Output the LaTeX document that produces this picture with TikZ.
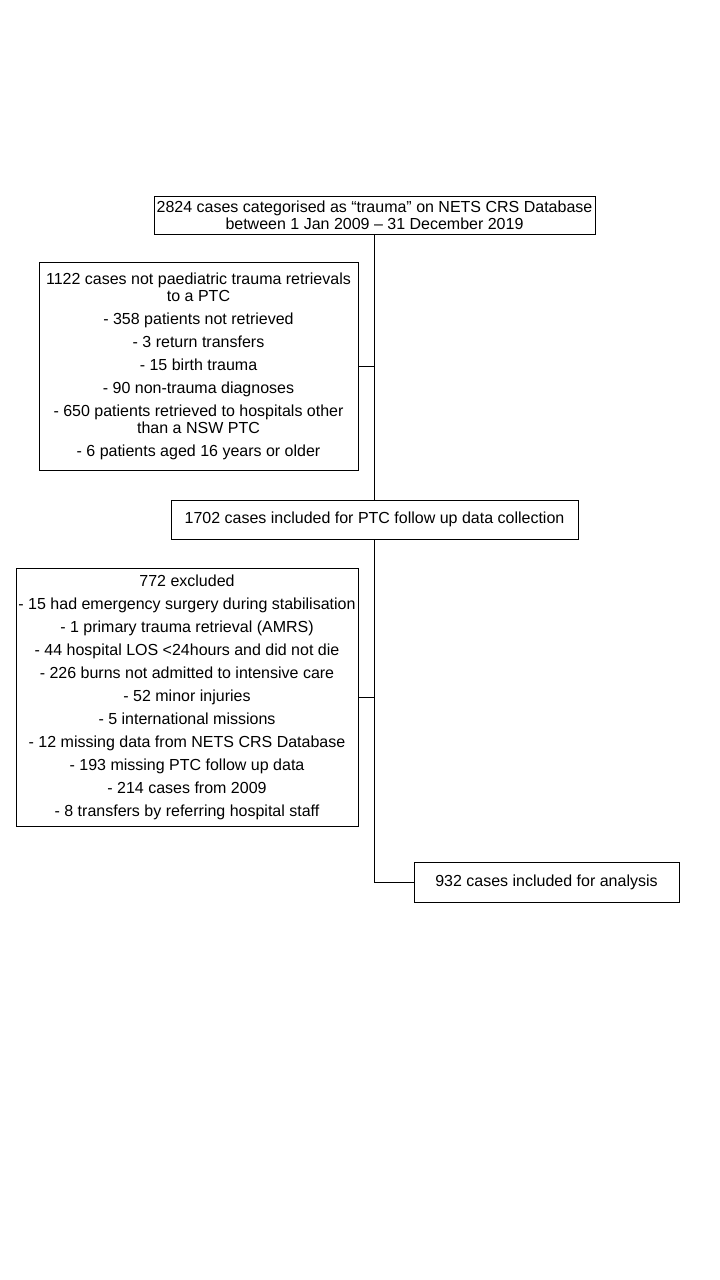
\documentclass[tikz,border=0pt]{standalone}
\usepackage{fontspec}
\setmainfont{Liberation Sans}
\begin{document}
\begin{tikzpicture}[x=1pt,y=-1pt,
  box/.style={draw, line width=0.8pt, align=center, inner sep=0pt, font=\fontsize{16}{17}\selectfont},
  conn/.style={line width=0.8pt}]
\useasboundingbox (0,0) rectangle (720,1280);
\node[box, minimum width=441pt, minimum height=38pt] (a) at (374.5,215)
  {2824 cases categorised as “trauma” on NETS CRS Database\\between 1 Jan 2009 – 31 December 2019};
\node[box, minimum width=319pt, minimum height=208pt] (b) at (198.5,366)
  {1122 cases not paediatric trauma retrievals\\to a PTC\\[6pt]
   - 358 patients not retrieved\\[6pt]
   - 3 return transfers\\[6pt]
   - 15 birth trauma\\[6pt]
   - 90 non-trauma diagnoses\\[6pt]
   - 650 patients retrieved to hospitals other\\than a NSW PTC\\[6pt]
   - 6 patients aged 16 years or older};
\node[box, minimum width=407pt, minimum height=39pt] (c) at (374.5,519.5)
  {1702 cases included for PTC follow up data collection};
\node[box, minimum width=342pt, minimum height=258pt] (d) at (187,697)
  {772 excluded\\[6pt]
   - 15 had emergency surgery during stabilisation\\[6pt]
   - 1 primary trauma retrieval (AMRS)\\[6pt]
   - 44 hospital LOS <24hours and did not die\\[6pt]
   - 226 burns not admitted to intensive care\\[6pt]
   - 52 minor injuries\\[6pt]
   - 5 international missions\\[6pt]
   - 12 missing data from NETS CRS Database\\[6pt]
   - 193 missing PTC follow up data\\[6pt]
   - 214 cases from 2009\\[6pt]
   - 8 transfers by referring hospital staff};
\node[box, minimum width=265pt, minimum height=40pt] (e) at (546.5,882)
  {932 cases included for analysis};
\draw[conn] (a.south) -- (c.north);
\draw[conn] (b.east) -- (b.east -| a.south);
\draw[conn] (c.south) |- (e.west);
\draw[conn] (d.east) -- (d.east -| c.south);
\end{tikzpicture}
\end{document}
